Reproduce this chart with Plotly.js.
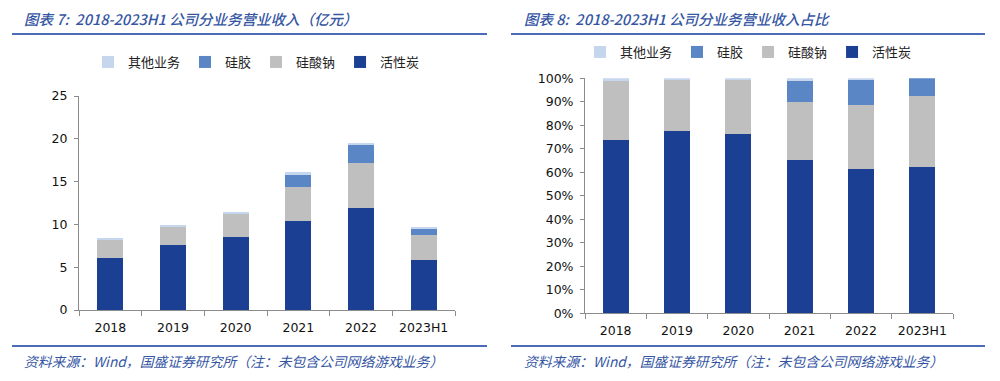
<!DOCTYPE html>
<html>
<head>
<meta charset="utf-8">
<script src="https://cdn.plot.ly/plotly-3.0.1.min.js"></script>
<style>html,body{margin:0;padding:0;background:#fff;}#chart{width:1000px;height:381px;}</style>
</head>
<body>
<div id="chart"></div>
<script>
// ---- data ----
const categories = ['2018', '2019', '2020', '2021', '2022', '2023H1'];
const seriesNames = ['活性炭', '硅酸钠', '硅胶', '其他业务'];
// revenue (亿元)
const revCarbon   = [6.04, 7.59, 8.57, 10.36, 11.92, 5.84];
const revSilicate = [2.14, 2.15, 2.64, 4.05, 5.29, 2.92];
const revGel      = [0, 0, 0, 1.36, 2.03, 0.70];
const revOther    = [0.23, 0.23, 0.20, 0.31, 0.31, 0.20];
// share (%)
const shareCarbon   = [73.8, 77.7, 76.3, 65.2, 61.4, 62.1];
const shareSilicate = [25.1, 21.6, 23.0, 24.9, 27.3, 30.5];
const shareGel      = [0, 0, 0, 8.8, 10.6, 7.4];
const shareOther    = [1.1, 0.7, 0.7, 1.1, 0.7, 0];
const leftTitle  = '图表 7:  2018-2023H1 公司分业务营业收入（亿元）';
const rightTitle = '图表 8:  2018-2023H1 公司分业务营业收入占比';
const sourceNote = '资料来源：Wind，国盛证券研究所（注：未包含公司网络游戏业务）';

const colors = ['#1B3F93', '#BFBFBF', '#5B86C5', '#C6D6EC'];
const W = 1000, H = 381;
const px = v => v / W;
const py = v => 1 - v / H;

const leftData = [revCarbon, revSilicate, revGel, revOther];
const rightData = [shareCarbon, shareSilicate, shareGel, shareOther];
const traces = [];
seriesNames.forEach((name, i) => {
  traces.push({type: 'bar', name: name, x: categories, y: leftData[i], xaxis: 'x', yaxis: 'y',
    marker: {color: colors[i], line: {width: 0}}, legend: 'legend', hoverinfo: 'none'});
});
seriesNames.forEach((name, i) => {
  traces.push({type: 'bar', name: name, x: categories, y: rightData[i], xaxis: 'x2', yaxis: 'y2',
    marker: {color: colors[i], line: {width: 0}}, legend: 'legend2', hoverinfo: 'none'});
});

const tickFont = {family: 'DejaVu Sans, Verdana, sans-serif', size: 12.5, color: '#111'};
const axisCommon = {showgrid: false, zeroline: false, showline: true, linecolor: '#8c8c8c', linewidth: 1,
  ticks: 'outside', tickcolor: '#8c8c8c', ticklen: 4, tickfont: tickFont, fixedrange: true};
const legendFont = {family: 'Noto Sans CJK SC, sans-serif', size: 13, color: '#222'};
const blue = '#3556A3';
const titleFont = {family: 'Noto Sans CJK SC, sans-serif', size: 14.5, color: blue, style: 'italic', weight: 500};
const noteFont = {family: 'Noto Sans CJK SC, sans-serif', size: 13.8, color: blue, style: 'italic'};

const layout = {
  width: W, height: H, margin: {l: 0, r: 0, t: 0, b: 0},
  paper_bgcolor: '#fff', plot_bgcolor: '#fff', showlegend: true,
  barmode: 'stack', bargap: 0.58,
  xaxis: Object.assign({}, axisCommon, {domain: [px(79), px(455)], anchor: 'y', tickson: 'boundaries', ticklen: 5,
    type: 'category', ticklabelstandoff: 6}),
  yaxis: Object.assign({}, axisCommon, {domain: [py(310), py(96)], anchor: 'x', range: [0, 25], dtick: 5,
    ticklabelstandoff: 4}),
  xaxis2: Object.assign({}, axisCommon, {domain: [px(585), px(953)], anchor: 'y2', tickson: 'boundaries', ticklen: 5,
    type: 'category', ticklabelstandoff: 6}),
  yaxis2: Object.assign({}, axisCommon, {domain: [py(313.3), py(78.3)], anchor: 'x2', range: [0, 100], dtick: 10,
    ticksuffix: '%', ticklabelstandoff: 4}),
  legend: {orientation: 'h', x: px(88), xanchor: 'left', y: py(62), yanchor: 'middle', traceorder: 'reversed',
    font: legendFont, itemwidth: 30, bgcolor: 'rgba(0,0,0,0)'},
  legend2: {orientation: 'h', x: px(580), xanchor: 'left', y: py(52), yanchor: 'middle', traceorder: 'reversed',
    font: legendFont, itemwidth: 30, bgcolor: 'rgba(0,0,0,0)'},
  shapes: [
    {type: 'line', xref: 'paper', yref: 'paper', x0: px(12), x1: px(487), y0: py(34), y1: py(34), line: {color: '#4A6CB8', width: 2}},
    {type: 'line', xref: 'paper', yref: 'paper', x0: px(511), x1: px(985), y0: py(34), y1: py(34), line: {color: '#4A6CB8', width: 2}},
    {type: 'line', xref: 'paper', yref: 'paper', x0: px(12), x1: px(487), y0: py(346), y1: py(346), line: {color: '#4A6CB8', width: 2}},
    {type: 'line', xref: 'paper', yref: 'paper', x0: px(511), x1: px(985), y0: py(346), y1: py(346), line: {color: '#4A6CB8', width: 2}}
  ],
  annotations: [
    {xref: 'paper', yref: 'paper', x: px(22), y: py(18), xanchor: 'left', yanchor: 'middle', showarrow: false, text: leftTitle, font: titleFont},
    {xref: 'paper', yref: 'paper', x: px(522), y: py(18), xanchor: 'left', yanchor: 'middle', showarrow: false, text: rightTitle, font: titleFont},
    {xref: 'paper', yref: 'paper', x: px(22), y: py(361), xanchor: 'left', yanchor: 'middle', showarrow: false, text: sourceNote, font: noteFont},
    {xref: 'paper', yref: 'paper', x: px(522), y: py(361), xanchor: 'left', yanchor: 'middle', showarrow: false, text: sourceNote, font: noteFont}
  ]
};

Plotly.newPlot('chart', traces, layout, {staticPlot: true, displayModeBar: false});
</script>
</body>
</html>
